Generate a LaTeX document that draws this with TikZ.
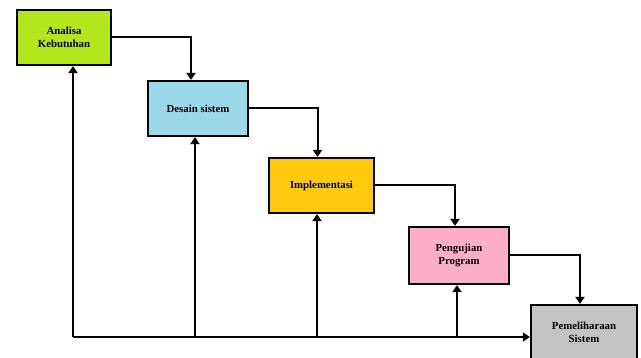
\documentclass[tikz,border=0pt]{standalone}
\usepackage{fontspec}
\setmainfont{Liberation Serif}
\usetikzlibrary{arrows.meta}

\definecolor{hijau}{HTML}{B5E61D}
\definecolor{biru}{HTML}{99D9EA}
\definecolor{kuning}{HTML}{FFC90E}
\definecolor{merahmuda}{HTML}{FFAEC9}
\definecolor{abu}{HTML}{C3C3C3}

\begin{document}
\begin{tikzpicture}[x=1pt, y=-1pt,
    tahap/.style={draw=black, line width=2.2pt, minimum height=55pt, align=center,
                  font=\fontsize{10.8}{12.5}\selectfont\bfseries, inner sep=2pt},
    garis/.style={line width=2pt, -{Triangle[length=7pt,width=9pt]}}]
            \useasboundingbox (0,0) rectangle (641,358);
            \clip (0,0) rectangle (641,358);

            % Add tahap
            \node[tahap, fill=hijau, minimum width=94pt] (AK) at (64,37.5) {Analisa\\Kebutuhan};
            \node[tahap, fill=biru, minimum width=100pt] (DS) at (198,108.5) {Desain sistem};
            \node[tahap, fill=kuning, minimum width=105pt] (IM) at (321.5,185.5) {Implementasi};
            \node[tahap, fill=merahmuda, minimum width=100pt, minimum height=57pt] (PP) at (459,255.5) {Pengujian\\Program};
            \node[tahap, fill=abu, minimum width=106pt] (PS) at (584,332.5) {Pemeliharaan\\Sistem};

            % Bottom line
            \coordinate (B_1) at (73,337);
            \coordinate (B_2) at (195,337);
            \coordinate (B_3) at (317,337);
            \coordinate (B_4) at (457,337);

            % Draw edges
            \draw[garis] (AK.east) -| ([xshift=-7pt]DS.north);
            \draw[garis] (DS.east) -| ([xshift=-4pt]IM.north);
            \draw[garis] (IM.east) -| ([xshift=-4pt]PP.north);
            \draw[garis] (PP.east) -| ([xshift=-4pt]PS.north);
            \draw[garis] (B_1) -- (B_1 -| PS.west);
            \draw[garis] (B_1) -- (B_1 |- AK.south);
            \draw[garis] (B_2) -- (B_2 |- DS.south);
            \draw[garis] (B_3) -- (B_3 |- IM.south);
            \draw[garis] (B_4) -- (B_4 |- PP.south);
        \end{tikzpicture}
\end{document}
